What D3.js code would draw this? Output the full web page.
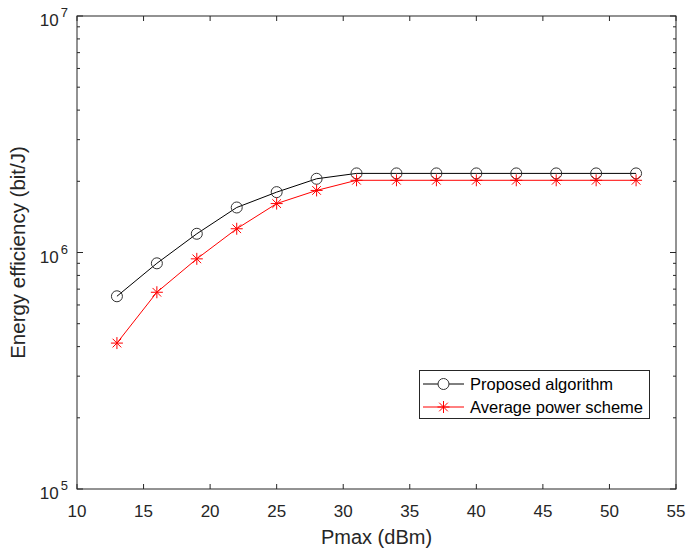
<!DOCTYPE html>
<html>
<head>
<meta charset="utf-8">
<script src="https://cdn.jsdelivr.net/npm/d3@7"></script>
<style>
  body { margin: 0; background: #fff; }
  text { font-family: "Liberation Sans", Arial, sans-serif; }
</style>
</head>
<body>
<div id="chart"></div>
<script>
// data
const pmax = [13, 16, 19, 22, 25, 28, 31, 34, 37, 40, 43, 46, 49, 52];
const proposed = [6.53e5, 9.0e5, 1.2e6, 1.55e6, 1.80e6, 2.05e6, 2.16e6, 2.16e6, 2.16e6, 2.16e6, 2.16e6, 2.16e6, 2.16e6, 2.16e6];
const average = [4.14e5, 6.79e5, 9.4e5, 1.26e6, 1.61e6, 1.83e6, 2.02e6, 2.02e6, 2.02e6, 2.02e6, 2.02e6, 2.02e6, 2.02e6, 2.02e6];
const xTicks = [10, 15, 20, 25, 30, 35, 40, 45, 50, 55];
const yExps = [5, 6, 7];
const seriesNames = ["Proposed algorithm", "Average power scheme"];

const width = 687;
const height = 549;
const margin = { top: 16, right: 11, bottom: 60, left: 77 };
const axisColor = "#262626";

const svg = d3.select("#chart")
    .append("svg")
    .attr("width", width)
    .attr("height", height);

const x = d3.scaleLinear()
    .domain([10, 55])
    .range([margin.left, width - margin.right]);

const y = d3.scaleLog()
    .domain([1e5, 1e7])
    .range([height - margin.bottom, margin.top]);

// minor ticks for the log axis
const minor = [];
for (let e = 5; e < 7; e++) {
    for (let m = 2; m <= 9; m++) minor.push(m * Math.pow(10, e));
}

// frame
svg.append("rect")
    .attr("x", margin.left)
    .attr("y", margin.top)
    .attr("width", x(55) - margin.left)
    .attr("height", y(1e5) - margin.top)
    .attr("fill", "none")
    .attr("stroke", axisColor)
    .attr("stroke-width", 1);

const tickG = svg.append("g").attr("stroke", axisColor).attr("stroke-width", 1);

// x ticks, bottom and top (inward)
xTicks.forEach(t => {
    tickG.append("line").attr("x1", x(t)).attr("x2", x(t)).attr("y1", y(1e5)).attr("y2", y(1e5) - 5);
    tickG.append("line").attr("x1", x(t)).attr("x2", x(t)).attr("y1", y(1e7)).attr("y2", y(1e7) + 5);
});

// y ticks left and right
yExps.forEach(e => {
    const v = Math.pow(10, e);
    tickG.append("line").attr("x1", x(10)).attr("x2", x(10) + 6).attr("y1", y(v)).attr("y2", y(v));
    tickG.append("line").attr("x1", x(55)).attr("x2", x(55) - 6).attr("y1", y(v)).attr("y2", y(v));
});
minor.forEach(v => {
    tickG.append("line").attr("x1", x(10)).attr("x2", x(10) + 3).attr("y1", y(v)).attr("y2", y(v));
    tickG.append("line").attr("x1", x(55)).attr("x2", x(55) - 3).attr("y1", y(v)).attr("y2", y(v));
});

// x tick labels
svg.append("g")
    .selectAll("text")
    .data(xTicks)
    .join("text")
        .attr("x", d => x(d))
        .attr("y", y(1e5) + 28)
        .attr("text-anchor", "middle")
        .attr("font-size", 17)
        .attr("fill", axisColor)
        .text(d => d);

// y tick labels 10^n
const yl = svg.append("g")
    .selectAll("text")
    .data(yExps)
    .join("text")
        .attr("x", margin.left - 9)
        .attr("y", d => y(Math.pow(10, d)) + 10)
        .attr("text-anchor", "end")
        .attr("font-size", 17)
        .attr("fill", axisColor);
yl.append("tspan").text("10");
yl.append("tspan").attr("font-size", 13).attr("dx", 2).attr("dy", -9).text(d => d);

// axis titles
svg.append("text")
    .attr("x", (x(10) + x(55)) / 2)
    .attr("y", 544)
    .attr("text-anchor", "middle")
    .attr("font-size", 20)
    .attr("fill", axisColor)
    .text("Pmax (dBm)");

svg.append("text")
    .attr("transform", `translate(25, ${(y(1e5) + y(1e7)) / 2}) rotate(-90)`)
    .attr("text-anchor", "middle")
    .attr("font-size", 20.5)
    .attr("fill", axisColor)
    .text("Energy efficiency (bit/J)");

// lines
const line = vals => d3.line()
    .x((d, i) => x(pmax[i]))
    .y(d => y(d))(vals);

svg.append("path")
    .attr("d", line(proposed))
    .attr("fill", "none")
    .attr("stroke", "#000")
    .attr("stroke-width", 1);

svg.append("path")
    .attr("d", line(average))
    .attr("fill", "none")
    .attr("stroke", "#ff0000")
    .attr("stroke-width", 1);

// markers
const star = (g, cx, cy, r) => {
    const s = g.append("g").attr("stroke", "#ff0000").attr("stroke-width", 1);
    s.append("line").attr("x1", cx - r).attr("x2", cx + r).attr("y1", cy).attr("y2", cy);
    s.append("line").attr("x1", cx).attr("x2", cx).attr("y1", cy - r).attr("y2", cy + r);
    const d = r * 0.72;
    s.append("line").attr("x1", cx - d).attr("x2", cx + d).attr("y1", cy - d).attr("y2", cy + d);
    s.append("line").attr("x1", cx - d).attr("x2", cx + d).attr("y1", cy + d).attr("y2", cy - d);
};

svg.append("g")
    .selectAll("circle")
    .data(proposed)
    .join("circle")
        .attr("cx", (d, i) => x(pmax[i]))
        .attr("cy", d => y(d))
        .attr("r", 5.5)
        .attr("fill", "none")
        .attr("stroke", "#333")
        .attr("stroke-width", 1);

const starG = svg.append("g");
average.forEach((d, i) => star(starG, x(pmax[i]), y(d), 6));

// legend
const lg = svg.append("g");
lg.append("rect")
    .attr("x", 419.5)
    .attr("y", 370.5)
    .attr("width", 230)
    .attr("height", 48)
    .attr("fill", "#fff")
    .attr("stroke", axisColor)
    .attr("stroke-width", 1);

seriesNames.forEach((name, i) => {
    const ly = 384 + i * 23;
    lg.append("line")
        .attr("x1", 423).attr("x2", 464)
        .attr("y1", ly).attr("y2", ly)
        .attr("stroke", i === 0 ? "#000" : "#ff0000")
        .attr("stroke-width", 1);
    if (i === 0) {
        lg.append("circle").attr("cx", 443.5).attr("cy", ly).attr("r", 5.5)
            .attr("fill", "#fff").attr("stroke", "#333");
    } else {
        star(lg, 443.5, ly, 6);
    }
    lg.append("text")
        .attr("x", 470)
        .attr("y", ly + 6)
        .attr("font-size", 16.5)
        .attr("fill", "#000")
        .text(name);
});
</script>
</body>
</html>
